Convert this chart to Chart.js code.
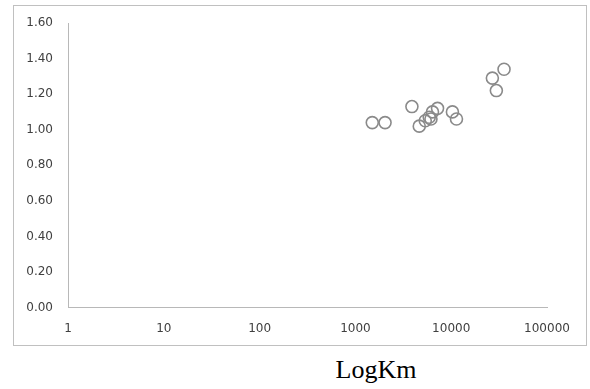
<!DOCTYPE html>
<html>
<head>
<meta charset="utf-8">
<script src="https://cdn.jsdelivr.net/npm/chart.js@4.4.0/dist/chart.umd.min.js"></script>
<style>
  html, body { margin: 0; padding: 0; background: #fff; }
  body { width: 590px; height: 389px; position: relative; overflow: hidden; }
  #frame { position: absolute; left: 13px; top: 5px; width: 572px; height: 339px; border: 1px solid #c0c0c0; }
  #frame canvas { display: block; }
  #xtitle { position: absolute; left: 0; width: 752px; top: 355px; text-align: center;
    font-family: "Liberation Serif", "Times New Roman", serif; font-size: 26px; color: #000; }
</style>
</head>
<body>
<div id="frame"><canvas id="chart" width="572" height="339"></canvas></div>
<div id="xtitle">LogKm</div>
<script>
// valores
const kmValues = [1500, 2040, 3890, 4640, 5360, 5900, 6150, 6380, 7200, 10300, 11350, 26900, 29600, 35600];
const ratioValues = [1.04, 1.04, 1.13, 1.02, 1.05, 1.07, 1.06, 1.10, 1.12, 1.10, 1.06, 1.29, 1.22, 1.34];
const xTicks = [1, 10, 100, 1000, 10000, 100000];
const yTicks = [0, 0.2, 0.4, 0.6, 0.8, 1.0, 1.2, 1.4, 1.6];

const points = kmValues.map((x, i) => ({ x: x, y: ratioValues[i] }));
const tickFont = { family: "DejaVu Sans", size: 12 };
const axisGray = "#b8b8b8";

new Chart("chart", {
  type: "scatter",
  data: {
    datasets: [{
      data: points,
      pointStyle: "circle",
      pointRadius: 6,
      pointBorderWidth: 1.6,
      pointBorderColor: "#8a8a8a",
      pointBackgroundColor: "rgba(0,0,0,0)"
    }]
  },
  options: {
    responsive: false,
    animation: false,
    layout: { autoPadding: false, padding: { left: 0, right: 39, top: 17, bottom: 0 } },
    plugins: { legend: { display: false }, tooltip: { enabled: false } },
    scales: {
      x: {
        type: "logarithmic",
        min: 1,
        max: 100000,
        afterBuildTicks: axis => { axis.ticks = xTicks.map(v => ({ value: v })); },
        afterFit: axis => {
          axis.height = 37.5;
          axis.paddingLeft = 0;
          axis.paddingRight = 0;
        },
        ticks: {
          callback: v => String(v),
          color: "#404040",
          font: tickFont,
          padding: 14,
          maxRotation: 0,
          autoSkip: false
        },
        grid: { display: false, drawTicks: false },
        border: { display: true, color: axisGray, width: 1 }
      },
      y: {
        min: 0,
        max: 1.6,
        afterBuildTicks: axis => { axis.ticks = yTicks.map(v => ({ value: v })); },
        afterFit: axis => {
          axis.width = 54;
          axis.paddingTop = 0;
          axis.paddingBottom = 0;
        },
        ticks: {
          callback: v => v.toFixed(2),
          color: "#404040",
          font: tickFont,
          padding: 15
        },
        grid: { display: false, drawTicks: false },
        border: { display: true, color: axisGray, width: 1 }
      }
    }
  }
});
</script>
</body>
</html>
